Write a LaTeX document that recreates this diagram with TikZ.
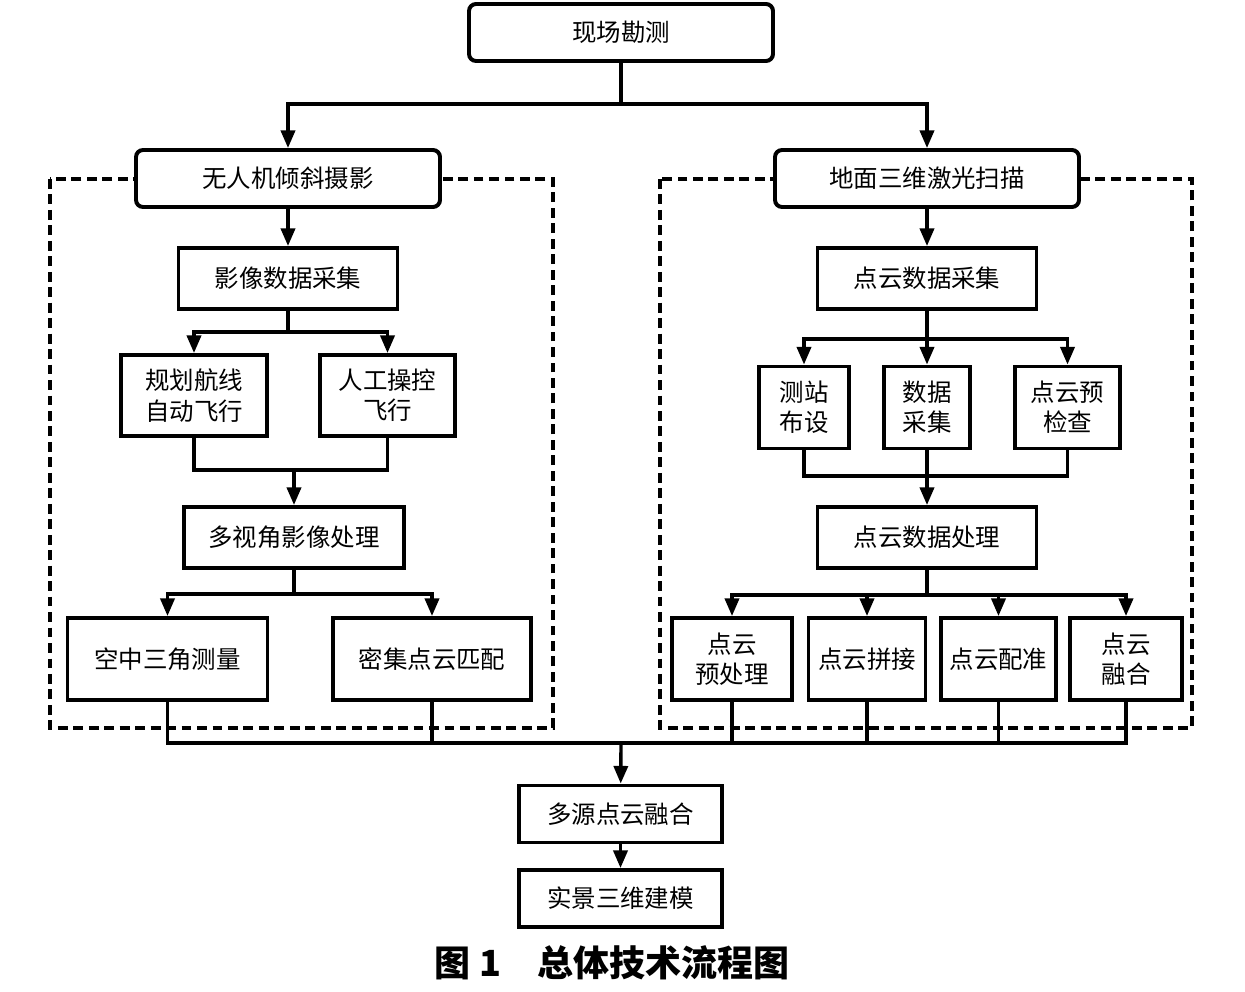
\documentclass[tikz,border=0pt]{standalone}
\usepackage{fontspec}
\newfontfamily\cjk{Noto Sans CJK SC}
\usetikzlibrary{arrows.meta}

\begin{document}
\begin{tikzpicture}[x=0.025cm,y=-0.025cm,
  box/.style={draw,line width=2.8pt,fill=white,inner sep=0pt,align=center,font=\cjk\fontsize{17.4}{21.5}\selectfont},
  sz/.style 2 args={minimum width=#1*0.025cm,minimum height=#2*0.025cm},
  headbox/.style={box,rounded corners=5pt,sz={304}{57}},
  link/.style={line width=2.4pt},
  arr/.style={link,-{Triangle[width=10pt,length=12.5pt]}},
  frame/.style={line width=2.5pt,dash pattern=on 7pt off 4pt}]
\useasboundingbox (0,0) rectangle (1245,992);
\draw[frame] (50,179) rectangle (553,728);
\draw[frame] (660,179) rectangle (1192,728);
\node[headbox] (survey) at (621,32.5) {现场勘测};
\node[headbox] (uav) at (288,178.5) {无人机倾斜摄影};
\node[headbox] (tls) at (927,178.5) {地面三维激光扫描};
\node[box,sz={219}{61}] (imgcol) at (288,278.5) {影像数据采集};
\node[box,sz={146}{81}] (route) at (194,395.5) {规划航线\\自动飞行};
\node[box,sz={135}{81}] (manual) at (387.5,395.5) {人工操控\\飞行};
\node[box,sz={220}{61}] (mvs) at (294,537.5) {多视角影像处理};
\node[box,sz={200}{82}] (aat) at (167.5,659) {空中三角测量};
\node[box,sz={198}{82}] (dense) at (432,659) {密集点云匹配};
\node[box,sz={219}{61}] (pccol) at (927,278.5) {点云数据采集};
\node[box,sz={90}{82}] (station) at (804,407.5) {测站\\布设};
\node[box,sz={86}{82}] (scan) at (927,407.5) {数据\\采集};
\node[box,sz={105}{82}] (check) at (1067.5,407.5) {点云预\\检查};
\node[box,sz={219}{61}] (pcproc) at (927,537.5) {点云数据处理};
\node[box,sz={120}{82}] (pre) at (732,659) {点云\\预处理};
\node[box,sz={117}{82}] (stitch) at (867,659) {点云拼接};
\node[box,sz={115}{82}] (reg) at (998.5,659) {点云配准};
\node[box,sz={112}{82}] (fuse) at (1126,659) {点云\\融合};
\node[box,sz={203}{57}] (msfuse) at (620.5,814) {多源点云融合};
\node[box,sz={203}{57}] (model) at (620.5,898.5) {实景三维建模};
\node[font=\cjk\bfseries\fontsize{25.6}{30}\selectfont] (caption) at (612,963) {图~1\quad 总体技术流程图};
\coordinate (split) at (621,104);
\draw[link] (survey) -- (split);
\draw[arr] (split) -| (uav);
\draw[arr] (split) -| (tls);
\draw[arr] (uav) -- (imgcol);
\draw[arr] (imgcol.south) -- ++(0,21) -| (route);
\draw[arr] (imgcol.south) -- ++(0,21) -| (manual);
\coordinate (j1) at (294,470);
\draw[link] (route.south) |- (j1) -| (manual.south);
\draw[arr] (j1) -- (mvs);
\coordinate (s2) at (294,594);
\draw[arr] (mvs) -- (s2) -| (aat);
\draw[arr] (s2) -| (dense);
\draw[arr] (tls) -- (pccol);
\coordinate (s3) at (927,339);
\draw[arr] (pccol) -- (s3) -| (station);
\draw[arr] (s3) -- (scan);
\draw[arr] (s3) -| (check);
\coordinate (j2) at (927,476);
\draw[link] (station.south) |- (j2) -| (check.south);
\draw[link] (scan) -- (j2);
\draw[arr] (j2) -- (pcproc);
\coordinate (s4) at (927,595);
\draw[link] (pcproc) -- (s4);
\foreach \n in {pre,stitch,reg,fuse}
  \draw[arr] (s4) -| (\n);
\coordinate (j3) at (621,743);
\draw[link] (aat.south) |- (j3) -| (fuse.south);
\foreach \n in {dense,pre,stitch,reg}
  \draw[link] (\n) -- (\n.south |- j3);
\draw[arr] (j3) -- (msfuse);
\draw[arr] (msfuse) -- (model);
\end{tikzpicture}
\end{document}
